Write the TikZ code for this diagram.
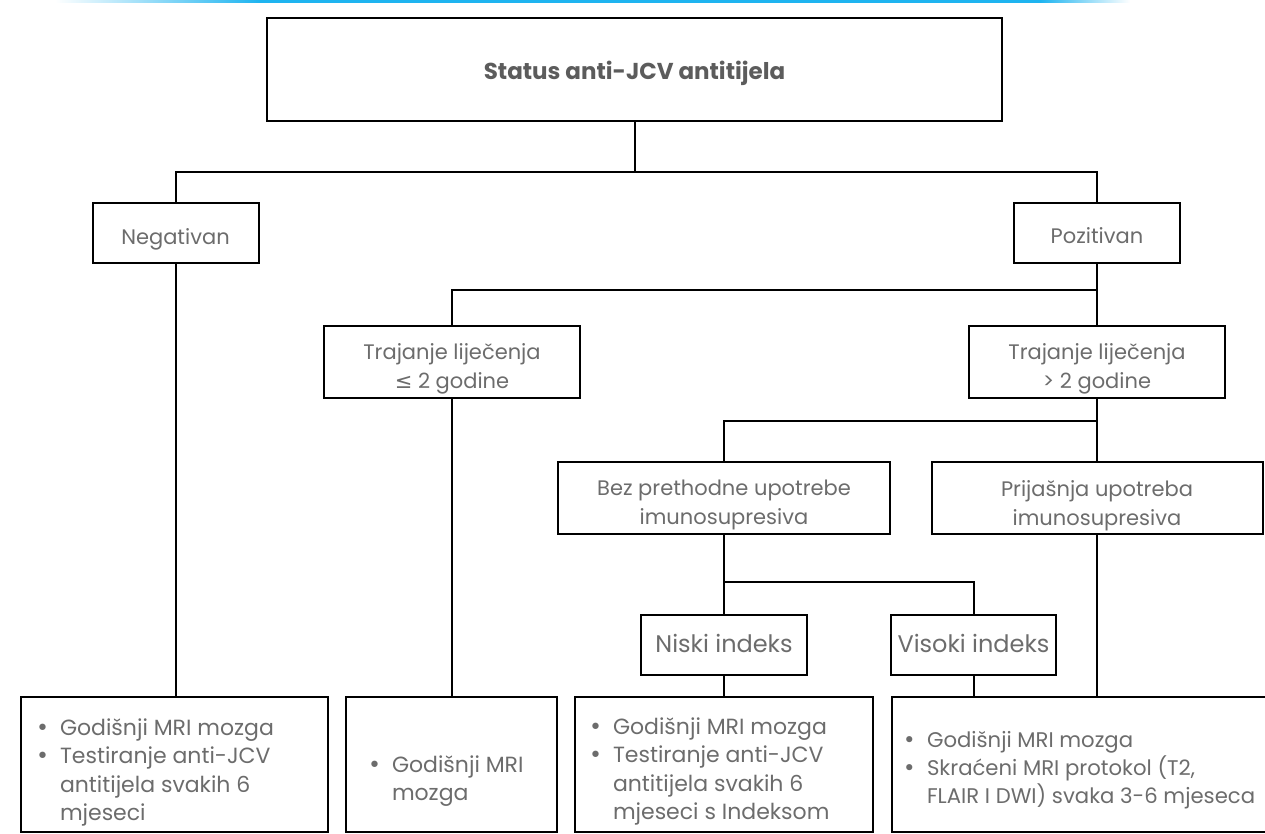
\documentclass[tikz,border=0pt]{standalone}
\usepackage{fontspec}
\setmainfont{Poppins}
\newfontfamily\dejavu{DejaVu Sans}
\usepackage{tikz}
\definecolor{txtgray}{RGB}{108,108,108}
\definecolor{titlegray}{RGB}{92,92,92}
\definecolor{topcyan}{RGB}{30,180,240}
\newcommand{\itembul}{\makebox[24pt][l]{\dejavu •}}
\newcommand{\dropbox}[2][6pt]{\raisebox{-#1}[\height][\depth]{\begin{tabular}{@{}c@{}}#2\end{tabular}}}

\begin{document}
\begin{tikzpicture}[x=1pt,y=-1pt,line width=2pt]
\tikzstyle{box}=[draw=black,rectangle,inner sep=0pt,text=txtgray,font=\fontsize{21}{29}\selectfont]
\tikzstyle{leaf}=[draw=black,rectangle,inner sep=0pt,minimum height=135]
\tikzstyle{items}=[anchor=base west,inner sep=0pt,text=txtgray,font=\fontsize{22}{28.5}\selectfont]

\useasboundingbox (0,0) rectangle (1265,834);

% cyan rule at the top
\shade[left color=white,right color=topcyan] (55,0) rectangle (260,3);
\fill[topcyan] (260,0) rectangle (1040,3);
\shade[left color=topcyan,right color=white] (1040,0) rectangle (1130,3);

\node[box,minimum width=735,minimum height=103,text=titlegray,font=\fontsize{23}{29}\selectfont] (status) at (634.5,69.5) {\dropbox[4pt]{\bfseries Status anti-JCV antitijela}};
\node[box,minimum width=166,minimum height=60] (neg) at (175.5,233) {\dropbox{Negativan}};
\node[box,minimum width=166,minimum height=60] (pos) at (1097,233) {\dropbox[5pt]{Pozitivan}};
\node[box,minimum width=256,minimum height=72] (short) at (452,362) {\dropbox{Trajanje liječenja\\{\dejavu ≤} 2 godine}};
\node[box,minimum width=256,minimum height=72] (long) at (1097,362) {\dropbox{Trajanje liječenja\\> 2 godine}};
\node[box,minimum width=332,minimum height=72] (noprior) at (724,498) {\dropbox{Bez prethodne upotrebe\\imunosupresiva}};
\node[box,minimum width=331,minimum height=72] (prior) at (1097,498) {\dropbox[7pt]{Prijašnja upotreba\\imunosupresiva}};
\node[box,minimum width=166,minimum height=60,font=\fontsize{24}{29}\selectfont] (low) at (724,645) {\dropbox[2pt]{Niski indeks}};
\node[box,minimum width=165,minimum height=60,font=\fontsize{24}{29}\selectfont] (high) at (973.5,645) {\dropbox[2pt]{Visoki indeks}};

\node[leaf,minimum width=307] (leafA) at (174.5,764.5) {};
\node[leaf,minimum width=211] (leafB) at (451.5,764.5) {};
\node[leaf,minimum width=298] (leafC) at (724,764.5) {};
\node[leaf,minimum width=378] (leafD) at (1081,764.5) {};

\node[items] (txtA) at (35,735) {\begin{tabular}[t]{@{}l@{}l@{}}\itembul&Godišnji MRI mozga\\ \itembul&Testiranje anti-JCV\\ &antitijela svakih 6\\ &mjeseci\end{tabular}};
\node[items] (txtB) at (367,772) {\begin{tabular}[t]{@{}l@{}l@{}}\itembul&Godišnji MRI\\ &mozga\end{tabular}};
\node[items] (txtC) at (588,734) {\begin{tabular}[t]{@{}l@{}l@{}}\itembul&Godišnji MRI mozga\\ \itembul&Testiranje anti-JCV\\ &antitijela svakih 6\\ &mjeseci s Indeksom\end{tabular}};
\node[items,font=\fontsize{21.2}{28}\selectfont] (txtD) at (902,747) {\begin{tabular}[t]{@{}l@{}l@{}}\itembul&Godišnji MRI mozga\\ \itembul&Skraćeni MRI protokol (T2,\\ &FLAIR I DWI) svaka 3-6 mjeseca\end{tabular}};

% junctions
\coordinate (j1) at (634.5,172);
\coordinate (j2) at (1097,290);
\coordinate (j3) at (1097,421);
\coordinate (j4) at (724,582);

\draw (status.south) -- (j1);
\draw (neg.north) |- (j1) -| (pos.north);
\draw (pos.south) -- (long.north);
\draw (short.north) |- (j2);
\draw (long.south) -- (prior.north);
\draw (noprior.north) |- (j3);
\draw (noprior.south) -- (low.north);
\draw (high.north) |- (j4);
\draw (neg.south) -- (neg.south |- leafA.north);
\draw (short.south) -- (short.south |- leafB.north);
\draw (low.south) -- (low.south |- leafC.north);
\draw (high.south) -- (high.south |- leafD.north);
\draw (prior.south) -- (prior.south |- leafD.north);
\end{tikzpicture}
\end{document}
